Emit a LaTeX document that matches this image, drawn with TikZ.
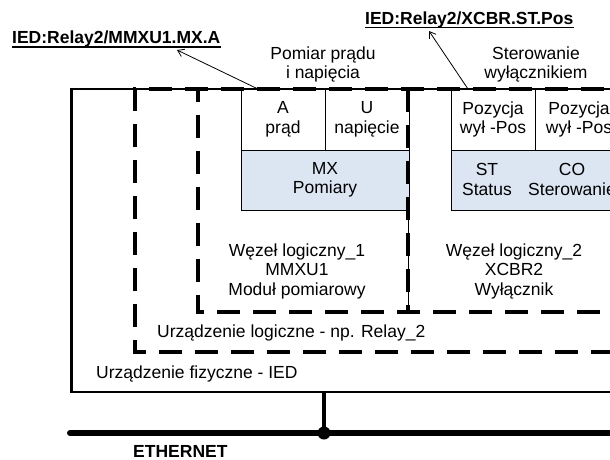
\documentclass[tikz,border=0pt]{standalone}
\usepackage{fontspec}
\setmainfont{Liberation Sans}
\usetikzlibrary{arrows.meta}
\definecolor{mxblue}{RGB}{220,230,242}
\newcommand\bodyfont{\fontsize{17.5}{19.5}\selectfont}
\begin{document}
\begin{tikzpicture}[x=1pt,y=-1pt,
  every node/.style={inner sep=0pt, font=\bodyfont},
  txt/.style={align=center, anchor=base},
  plain/.style={anchor=base west},
  tag/.style={anchor=base west, font=\bodyfont\bfseries},
  cell/.style={draw=black, line width=0.9pt, align=center, fill=white},
  mxcell/.style={cell, fill=mxblue},
  frame/.style={line width=2.6pt},
  dashframe/.style={line width=3.3pt, dash pattern=on 23pt off 13pt},
  thin/.style={line width=0.9pt},
  pointer/.style={line width=0.8pt, -{Straight Barb[length=6pt,width=8pt]}},
  bus/.style={line width=6pt, line cap=round},
  tap/.style={line width=4.5pt}
]
\useasboundingbox (0,0) rectangle (610,459);
\clip (0,0) rectangle (610,459);

% --- data objects of logical node 1 (measurement) ---
\node[cell, minimum width=84pt, minimum height=61pt] (cA) at (283,119.5) {A\\prąd};
\node[cell, minimum width=84pt, minimum height=61pt] (cU) at (367,119.5) {U\\napięcie};
\node[mxcell, minimum width=168pt, minimum height=60pt] (cMX) at (325,180) {MX\\Pomiary};

% --- data objects of logical node 2 (breaker) ---
\node[cell, minimum width=84pt, minimum height=61pt] (cP1) at (493,119.5) {Pozycja\\wył -Pos};
\node[cell, minimum width=88pt, minimum height=61pt] (cP2) at (579,119.5) {Pozycja\\wył -Pos};
\node[mxcell, minimum width=180pt, minimum height=60pt] (cST) at (541,180) {};
\node[txt] (tST) at (487,195) {ST\\Status};
\node[txt] (tCO) at (572,195) {CO\\Sterowanie};

% --- logical nodes (dashed) ---
\coordinate (lnTL) at (198,89);
\coordinate (lnBL) at (198,312);
\coordinate (lnSepT) at (408,89);
\coordinate (lnSepM) at (408,210);
\coordinate (lnSepB) at (408,312);
\draw[dashframe] (640,89) -- (lnTL) -- (lnBL) -- (640,312);
\draw[thin] (lnSepM) -- (lnSepB);
\draw[dashframe] (lnSepT) -- (lnSepB);

% --- logical device (dashed) ---
\coordinate (ldTL) at (135,89);
\coordinate (ldBL) at (135,352);
\draw[dashframe] (640,89) -- (ldTL) -- (ldBL) -- (640,352);

% --- physical device ---
\coordinate (iedTL) at (71.5,89);
\coordinate (iedBL) at (71.5,392);
\coordinate (iedTap) at (324,392);
\draw[frame] (640,89) -- (iedTL) -- (iedBL) -- (640,392);

% --- texts (multi-line nodes sit on the baseline of their last line) ---
\node[txt] (ln1) at (297,295) {Węzeł logiczny\_1\\MMXU1\\Moduł pomiarowy};
\node[txt] (ln2) at (514,295) {Węzeł logiczny\_2\\XCBR2\\Wyłącznik};
\node[plain] (ldtxt) at (157,337) {Urządzenie logiczne - np. Relay\_2};
\node[plain] (iedtxt) at (96,378) {Urządzenie fizyczne - IED};
\node[txt] (meas) at (323,78.5) {Pomiar prądu\\i napięcia};
\node[txt] (ctrl) at (536,78.5) {Sterowanie\\wyłącznikiem};

% --- object references ---
\node[tag] (refA) at (12,43) {IED:Relay2/MMXU1.MX.A};
\node[tag] (refPos) at (365,24) {IED:Relay2/XCBR.ST.Pos};
\draw[line width=1.6pt] ([yshift=-4.2pt]refA.base west) -- ([yshift=-4.2pt]refA.base east);
\draw[line width=1.6pt] ([yshift=-3.4pt]refPos.base west) -- ([yshift=-3.4pt]refPos.base east);
\coordinate (srcA) at (258,89);
\coordinate (dstA) at (177,50);
\coordinate (srcPos) at (468,89);
\coordinate (dstPos) at (429,31);
\draw[pointer] (srcA) -- (dstA);
\draw[pointer] (srcPos) -- (dstPos);

% --- network ---
\coordinate (busL) at (70,433);
\coordinate (busR) at (650,433);
\coordinate (busJ) at (324,433);
\draw[bus] (busL) -- (busR);
\draw[tap] (iedTap) -- (busJ);
\fill (busJ) circle (6.5pt);
\node[tag] (eth) at (133,457.5) {ETHERNET};
\end{tikzpicture}
\end{document}
